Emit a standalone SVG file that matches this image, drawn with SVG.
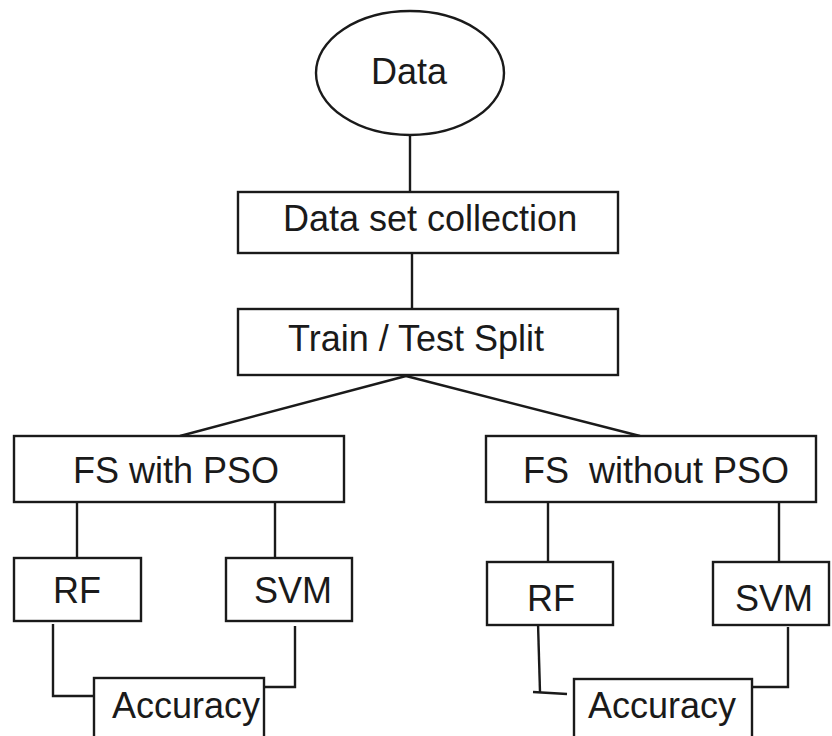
<svg xmlns="http://www.w3.org/2000/svg" width="832" height="736" viewBox="0 0 832 736">
<style>
.box{fill:#fff;stroke:#1a1a1a;stroke-width:2.4}
.lbl{font-family:"Liberation Sans",Arial,sans-serif;font-size:36px;fill:#1a1a1a}
.con{fill:none;stroke:#1a1a1a;stroke-width:2.4}
</style>
<rect width="832" height="736" fill="#fff"/>
<g id="connectors">
<line class="con" x1="410" y1="135" x2="410" y2="192"/>
<line class="con" x1="412" y1="253" x2="412" y2="309"/>
<line class="con" x1="406" y1="376" x2="180" y2="436"/>
<line class="con" x1="406" y1="376" x2="640" y2="436"/>
<line class="con" x1="77" y1="502" x2="77" y2="558"/>
<line class="con" x1="275" y1="497" x2="275" y2="558"/>
<line class="con" x1="548" y1="502" x2="548" y2="562"/>
<line class="con" x1="779" y1="502" x2="779" y2="562"/>
<polyline class="con" points="53,624 53,696 94,696"/>
<polyline class="con" points="295,626 295,687 264,687"/>
<polyline class="con" points="538,623 540,692"/>
<line class="con" x1="533" y1="692" x2="567" y2="694"/>
<polyline class="con" points="788,627 788,687 752,687"/>
</g>
<g id="data">
<ellipse class="box" cx="410" cy="73" rx="94" ry="62"/>
<text class="lbl" x="371" y="84">Data</text>
</g>
<g id="collection">
<rect class="box" x="238" y="192" width="380" height="61"/>
<text class="lbl" x="283" y="231">Data set collection</text>
</g>
<g id="split">
<rect class="box" x="238" y="309" width="380" height="66"/>
<text class="lbl" x="288" y="351">Train / Test Split</text>
</g>
<g id="fs-pso">
<rect class="box" x="14" y="436" width="330" height="66"/>
<text class="lbl" x="73" y="483">FS with PSO</text>
</g>
<g id="fs-nopso">
<rect class="box" x="486" y="436" width="330" height="66"/>
<text class="lbl" x="523" y="483" xml:space="preserve">FS  without PSO</text>
</g>
<g id="rf-left">
<rect class="box" x="14" y="558" width="127" height="63"/>
<text class="lbl" x="53" y="603">RF</text>
</g>
<g id="svm-left">
<rect class="box" x="226" y="558" width="126" height="63"/>
<text class="lbl" x="254" y="603">SVM</text>
</g>
<g id="rf-right">
<rect class="box" x="487" y="562" width="126" height="63"/>
<text class="lbl" x="527" y="611">RF</text>
</g>
<g id="svm-right">
<rect class="box" x="713" y="562" width="116" height="63"/>
<text class="lbl" x="735" y="611">SVM</text>
</g>
<g id="acc-left">
<rect class="box" x="94" y="678" width="170" height="80"/>
<text class="lbl" x="112" y="718">Accuracy</text>
</g>
<g id="acc-right">
<rect class="box" x="574" y="679" width="178" height="80"/>
<text class="lbl" x="588" y="718">Accuracy</text>
</g>
</svg>
